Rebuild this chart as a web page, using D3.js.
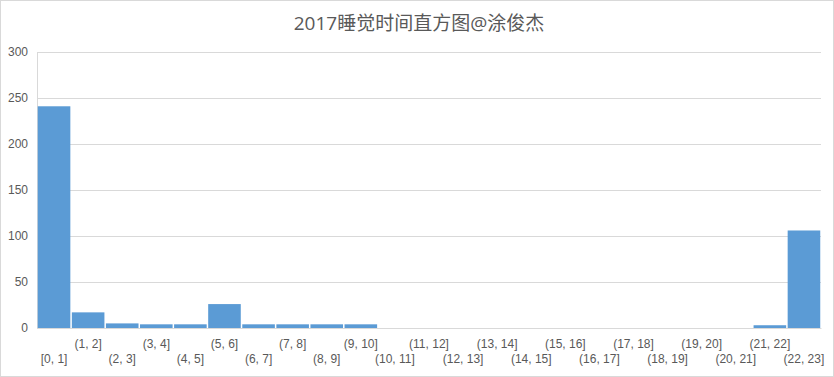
<!DOCTYPE html>
<html>
<head>
<meta charset="utf-8">
<script src="https://cdn.jsdelivr.net/npm/d3@7"></script>
<style>
  body { margin: 0; background: #fff; }
  svg { display: block; font-family: "Segoe UI", "Open Sans", "Noto Sans CJK SC", sans-serif; }
  .titulo { font-size: 19px; fill: #595959; }
  .tick text { fill: #595959; font-size: 12px; }
</style>
</head>
<body>
<svg width="834" height="377"></svg>
<script>
// bins of hours and counts
const bins = ['[0, 1]', '(1, 2]', '(2, 3]', '(3, 4]', '(4, 5]', '(5, 6]', '(6, 7]', '(7, 8]',
  '(8, 9]', '(9, 10]', '(10, 11]', '(11, 12]', '(12, 13]', '(13, 14]', '(14, 15]', '(15, 16]',
  '(16, 17]', '(17, 18]', '(18, 19]', '(19, 20]', '(20, 21]', '(21, 22]', '(22, 23]'];
const counts = [241, 17, 5, 4, 4, 26, 4, 4, 4, 4, 0, 0, 0, 0, 0, 0, 0, 0, 0, 0, 0, 3, 106];
const yTicks = [0, 50, 100, 150, 200, 250, 300];
const title = '2017睡觉时间直方图@涂俊杰';

const svg = d3.select('svg');
const largura = +svg.attr('width');
const altura = +svg.attr('height');

const marg = { cima: 52, direita: 13, baixo: 49, esquerda: 37 };
const innerL = largura - marg.esquerda - marg.direita;
const innerA = altura - marg.cima - marg.baixo;

svg.append('rect')
  .attr('x', 0.5).attr('y', 0.5)
  .attr('width', largura - 1).attr('height', altura - 1)
  .attr('fill', '#fff').attr('stroke', '#d9d9d9');

const g = svg.append('g')
  .attr('transform', `translate(${marg.esquerda},${marg.cima})`);

const xEscala = d3.scaleBand().domain(bins).range([0, innerL]).padding(0);
const yEscala = d3.scaleLinear().domain([0, 300]).range([innerA, 0]);

// grid + y labels
const yAxisG = g.append('g')
  .call(d3.axisLeft(yEscala).tickValues(yTicks).tickSize(-innerL).tickPadding(9));
yAxisG.select('.domain').remove();
yAxisG.selectAll('.tick line').attr('stroke', '#d9d9d9');

// left axis line
g.append('line')
  .attr('x1', 0.5).attr('x2', 0.5).attr('y1', 0).attr('y2', innerA)
  .attr('stroke', '#d9d9d9');

g.selectAll('rect.bar').data(counts)
  .enter().append('rect')
  .attr('class', 'bar')
  .attr('x', (d, i) => xEscala(bins[i]) + 0.75)
  .attr('width', xEscala.bandwidth() - 1.5)
  .attr('y', d => yEscala(d))
  .attr('height', d => innerA - yEscala(d))
  .attr('fill', '#5b9bd5');

// x axis
const xAxisG = g.append('g')
  .attr('transform', `translate(0,${innerA})`)
  .call(d3.axisBottom(xEscala).tickSize(0));
xAxisG.select('.domain').attr('stroke', '#d9d9d9');
xAxisG.selectAll('.tick text')
  .attr('y', (d, i) => i % 2 === 0 ? 26 : 11)
  .attr('dy', '0.71em');

svg.append('text')
  .attr('class', 'titulo')
  .attr('x', 419)
  .attr('y', 30)
  .attr('text-anchor', 'middle')
  .text(title);
</script>
</body>
</html>
